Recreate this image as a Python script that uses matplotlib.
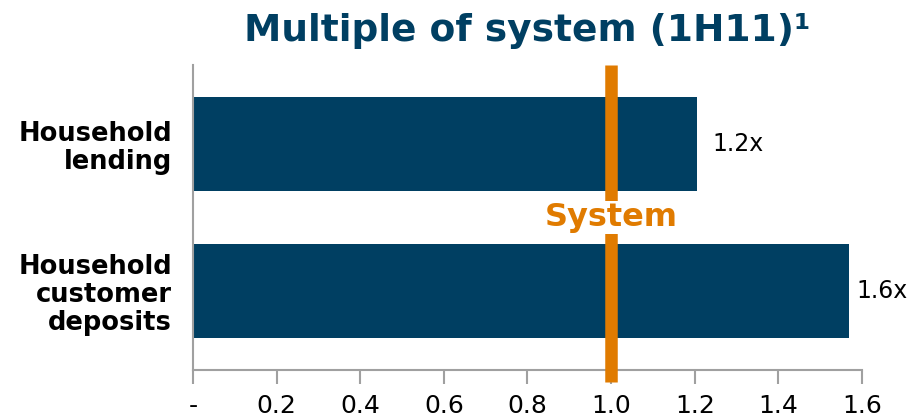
import numpy as np
import matplotlib.pyplot as plt

# Household multiples vs system, 1H11
categories = ["Household\nlending", "Household\ncustomer\ndeposits"]
multiples = [1.205, 1.57]
value_labels = ["1.2x", "1.6x"]
system_level = 1.0

x_ticks = [0.0, 0.2, 0.4, 0.6, 0.8, 1.0, 1.2, 1.4, 1.6]
x_tick_labels = ["-", "0.2", "0.4", "0.6", "0.8", "1.0", "1.2", "1.4", "1.6"]

navy = "#003F62"
orange = "#E07B00"
grey = "#A0A0A0"

plt.rcParams['font.family'] = ['DejaVu Sans']

fig = plt.figure(figsize=(9.16, 4.18), dpi=100)
ax = fig.add_axes([0.2107, 0.115, 0.7303, 0.7295])

y_pos = np.arange(len(categories))
ax.barh(y_pos, multiples, height=0.64, color=navy, zorder=2)

# last label sits tight to the bar so it stays inside the figure
label_gaps = [0.038, 0.016]
for y, v, lab, gap in zip(y_pos, multiples, value_labels, label_gaps):
    ax.text(v + gap, y, lab, va='center', ha='left', fontsize=17, color='black')

# system reference line, runs a little below the axis
ax.plot([system_level, system_level], [-0.54, 1.62], color=orange, lw=9,
        solid_capstyle='butt', zorder=3, clip_on=False)
ax.text(system_level, 0.5, "System", ha='center', va='center', fontsize=23,
        fontweight='bold', color=orange, zorder=4,
        bbox=dict(facecolor='white', edgecolor='none', pad=0.5))

ax.set_ylim(1.54, -0.54)
ax.set_xlim(0, 1.6)
ax.set_yticks(y_pos)
ax.set_yticklabels(categories, fontsize=18.5, fontweight='bold', ha='right',
                   multialignment='right', linespacing=1.1)
ax.tick_params(axis='y', length=0, pad=15)
ax.set_xticks(x_ticks)
ax.set_xticklabels(x_tick_labels, fontsize=18)
ax.tick_params(axis='x', length=10, width=1.5, color=grey, pad=7, direction='out')

for side in ['top', 'right']:
    ax.spines[side].set_visible(False)
for side in ['left', 'bottom']:
    ax.spines[side].set_color(grey)
    ax.spines[side].set_linewidth(1.5)

ax.set_title("Multiple of system (1H11)\u00b9", fontsize=27, fontweight='bold',
             color=navy, pad=17)

fig.savefig("out.png", dpi=100)
